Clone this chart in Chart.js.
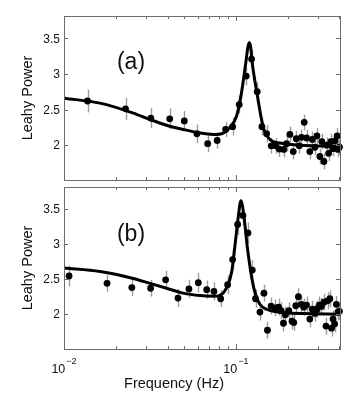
<!DOCTYPE html>
<html>
<head>
<meta charset="utf-8">
<script src="https://cdn.jsdelivr.net/npm/chart.js@4.4.1/dist/chart.umd.min.js"></script>
<style>
    body { margin: 0; background: #fff; }
    #wrap { position: relative; width: 354px; height: 416px; }
    canvas { position: absolute; left: 0; }
</style>
</head>
<body>
<div id="wrap">
    <canvas id="chartA" width="354" height="184" style="top:0px"></canvas>
    <canvas id="chartB" width="354" height="233" style="top:183px"></canvas>
</div>
<script>
// panel (a) - data points
const freqA = [0.0137, 0.0228, 0.0320, 0.0412, 0.0501, 0.0593, 0.0685, 0.0778, 0.0871, 0.0957,
    0.1045, 0.1148, 0.1233, 0.1330, 0.1416, 0.1508, 0.1604, 0.170, 0.1786, 0.1897,
    0.197, 0.206, 0.2155, 0.2242, 0.2335, 0.2405, 0.2495, 0.2575, 0.269, 0.278,
    0.288, 0.296, 0.3077, 0.316, 0.325, 0.337, 0.346, 0.357, 0.367, 0.377,
    0.388, 0.392, 0.40];
const powerA = [2.62, 2.51, 2.38, 2.37, 2.34, 2.16, 2.02, 2.065, 2.22, 2.26,
    2.57, 2.97, 3.21, 2.75, 2.26, 2.16, 1.99, 1.99, 1.945, 1.94,
    2.02, 2.15, 1.91, 2.09, 1.99, 2.11, 2.32, 2.10, 1.91, 2.08,
    1.97, 2.13, 1.84, 2.05, 1.77, 2.0, 1.885, 2.05, 1.95, 2.06,
    2.13, 1.94, 1.97];
const errA = [0.16, 0.155, 0.14, 0.145, 0.14, 0.13, 0.12, 0.115, 0.105, 0.125,
    0.125, 0.13, 0.13, 0.14, 0.12, 0.12, 0.11, 0.11, 0.11, 0.11,
    0.11, 0.11, 0.11, 0.11, 0.11, 0.11, 0.11, 0.11, 0.11, 0.11,
    0.11, 0.11, 0.11, 0.11, 0.11, 0.11, 0.11, 0.11, 0.11, 0.11,
    0.11, 0.11, 0.11];

// panel (a) - fitted model
const fitFreqA = [0.01, 0.0162, 0.0253, 0.0316, 0.0395, 0.0494, 0.0618, 0.0738, 0.0844, 0.0923,
    0.1009, 0.1073, 0.1143, 0.1174, 0.1196, 0.1218, 0.1242, 0.133, 0.1442, 0.1577,
    0.180, 0.2366, 0.403];
const fitPowerA = [2.66, 2.59, 2.45, 2.36, 2.28, 2.22, 2.17, 2.15, 2.17, 2.25,
    2.41, 2.71, 3.17, 3.38, 3.44, 3.38, 3.17, 2.71, 2.25, 2.08,
    2.03, 2.00, 1.985];

// panel (b) - data points
const freqB = [0.0107, 0.0178, 0.0248, 0.0319, 0.039, 0.046, 0.0533, 0.0604, 0.0676, 0.0745,
    0.0815, 0.0895, 0.0957, 0.1023, 0.1098, 0.1175, 0.1245, 0.130, 0.1379, 0.1455,
    0.1525, 0.160, 0.169, 0.177, 0.183, 0.189, 0.194, 0.203, 0.212, 0.217,
    0.223, 0.231, 0.2405, 0.248, 0.2575, 0.269, 0.278, 0.288, 0.296, 0.305,
    0.314, 0.325, 0.334, 0.341, 0.352, 0.360, 0.367, 0.375, 0.384, 0.392,
    0.40];
const powerB = [2.545, 2.44, 2.38, 2.37, 2.49, 2.23, 2.36, 2.45, 2.35, 2.325,
    2.22, 2.42, 2.78, 3.28, 3.41, 3.16, 2.63, 2.22, 2.03, 2.30,
    1.77, 2.115, 2.09, 2.10, 2.05, 1.87, 1.99, 2.05, 1.90, 1.88,
    2.12, 2.25, 2.14, 2.10, 2.13, 1.93, 2.07, 2.01, 2.07, 2.13,
    2.11, 2.17, 1.83, 2.19, 2.22, 1.80, 1.93, 1.86, 2.14, 2.03,
    2.04];
const errB = [0.15, 0.12, 0.12, 0.12, 0.13, 0.13, 0.13, 0.14, 0.13, 0.13,
    0.12, 0.13, 0.14, 0.15, 0.15, 0.15, 0.14, 0.13, 0.12, 0.12,
    0.12, 0.12, 0.12, 0.12, 0.12, 0.12, 0.12, 0.12, 0.12, 0.12,
    0.12, 0.12, 0.12, 0.12, 0.12, 0.12, 0.12, 0.12, 0.12, 0.12,
    0.12, 0.12, 0.12, 0.12, 0.12, 0.12, 0.12, 0.12, 0.12, 0.12,
    0.12];

// panel (b) - fitted model
const fitFreqB = [0.01, 0.0162, 0.0253, 0.0316, 0.0395, 0.0494, 0.0618, 0.0738, 0.0807, 0.0883,
    0.0944, 0.0982, 0.1033, 0.1069, 0.1113, 0.1166, 0.1240, 0.1300, 0.1379, 0.1508,
    0.1897, 0.403];
const fitPowerB = [2.66, 2.61, 2.51, 2.44, 2.37, 2.30, 2.265, 2.255, 2.27, 2.38,
    2.60, 2.93, 3.40, 3.62, 3.40, 2.95, 2.50, 2.28, 2.14, 2.07,
    2.02, 2.00];

// axes
const yTicks = [2, 2.5, 3, 3.5];
const yTickLabels = ['2', '2.5', '3', '3.5'];
const xMajorTicks = [0.01, 0.1];
const xTickBase = ['10', '10'];
const xTickExp = ['\u22122', '\u22121'];
const xMinorTicks = [0.02, 0.03, 0.04, 0.05, 0.06, 0.07, 0.08, 0.09, 0.2, 0.3, 0.4];

const FONT = '"Liberation Sans", Arial, Helvetica, sans-serif';
const TXT = '#111';
const AXIS = '#6a6a6a';

function toXY(xs, ys) {
    return xs.map((v, i) => ({ x: v, y: ys[i] }));
}

// error bars, frame, inward ticks and all the labels
const panelDeco = {
    id: 'panelDeco',
    beforeDatasetsDraw(chart) {
        const { ctx, chartArea: a, scales: { x, y } } = chart;
        const ds = chart.data.datasets[0];
        ctx.save();
        ctx.beginPath();
        ctx.rect(a.left, a.top, a.width, a.height);
        ctx.clip();
        ctx.strokeStyle = '#9c9c9c';
        ctx.lineWidth = 1.4;
        ds.data.forEach((p, i) => {
            const px = Math.round(x.getPixelForValue(p.x)) + 0.5;
            ctx.beginPath();
            ctx.moveTo(px, y.getPixelForValue(p.y - ds.errors[i]));
            ctx.lineTo(px, y.getPixelForValue(p.y + ds.errors[i]));
            ctx.stroke();
        });
        ctx.restore();
    },
    afterDraw(chart, args, opts) {
        const { ctx, chartArea: a, scales: { x, y } } = chart;
        ctx.save();
        ctx.strokeStyle = AXIS;
        ctx.lineWidth = 1;
        ctx.strokeRect(a.left + 0.5, a.top + 0.5, a.width, a.height);

        // y ticks, left and right
        ctx.beginPath();
        yTicks.forEach(v => {
            const py = Math.round(y.getPixelForValue(v)) + 0.5;
            ctx.moveTo(a.left, py); ctx.lineTo(a.left + 4, py);
            ctx.moveTo(a.right, py); ctx.lineTo(a.right - 4, py);
        });
        // x ticks, top and bottom
        xMajorTicks.forEach(v => {
            const px = Math.round(x.getPixelForValue(v)) + 0.5;
            ctx.moveTo(px, a.bottom); ctx.lineTo(px, a.bottom - 5);
            ctx.moveTo(px, a.top); ctx.lineTo(px, a.top + 5);
        });
        xMinorTicks.forEach(v => {
            const px = Math.round(x.getPixelForValue(v)) + 0.5;
            ctx.moveTo(px, a.bottom); ctx.lineTo(px, a.bottom - 3);
            ctx.moveTo(px, a.top); ctx.lineTo(px, a.top + 3);
        });
        ctx.stroke();

        // y tick labels
        ctx.fillStyle = TXT;
        ctx.font = '12px ' + FONT;
        ctx.textAlign = 'right';
        ctx.textBaseline = 'middle';
        yTicks.forEach((v, i) => {
            ctx.fillText(yTickLabels[i], a.left - 4, y.getPixelForValue(v) + 1);
        });

        // y title
        ctx.save();
        ctx.translate(32, (a.top + a.bottom) / 2);
        ctx.rotate(-Math.PI / 2);
        ctx.font = '14.5px ' + FONT;
        ctx.textAlign = 'center';
        ctx.textBaseline = 'alphabetic';
        ctx.fillText('Leahy Power', 0, 0);
        ctx.restore();

        // panel letter
        ctx.font = '23px ' + FONT;
        ctx.textAlign = 'center';
        ctx.textBaseline = 'middle';
        ctx.fillText(opts.letter, 131, a.top + opts.letterDy);

        // x tick labels and title only on the bottom panel
        if (opts.xLabels) {
            ctx.textAlign = 'left';
            ctx.textBaseline = 'alphabetic';
            xMajorTicks.forEach((v, i) => {
                const px = x.getPixelForValue(v);
                ctx.font = '12.5px ' + FONT;
                const w1 = ctx.measureText(xTickBase[i]).width;
                ctx.font = '9px ' + FONT;
                const w2 = ctx.measureText(xTickExp[i]).width;
                const x0 = px - (w1 + w2 + 1) / 2;
                ctx.font = '12.5px ' + FONT;
                ctx.fillText(xTickBase[i], x0, a.bottom + 23.5);
                ctx.font = '9px ' + FONT;
                ctx.fillText(xTickExp[i], x0 + w1 + 1, a.bottom + 14.5);
            });
            ctx.font = '14.5px ' + FONT;
            ctx.textAlign = 'center';
            ctx.fillText('Frequency (Hz)', 174, a.bottom + 38.5);
        }
        ctx.restore();
    }
};

function makePanel(canvasId, freq, power, err, fitFreq, fitPower, yMin, yMax, pad, deco) {
    const data = {
        datasets: [{
            label: 'data',
            data: toXY(freq, power),
            errors: err,
            pointRadius: 3.4,
            pointBackgroundColor: '#000',
            pointBorderWidth: 0,
            showLine: false,
            clip: false,
            order: 0
        }, {
            label: 'fit',
            data: toXY(fitFreq, fitPower),
            showLine: true,
            pointRadius: 0,
            borderColor: '#000',
            borderWidth: 3,
            cubicInterpolationMode: 'monotone',
            order: 1
        }]
    };

    const config = {
        type: 'scatter',
        data: data,
        options: {
            responsive: false,
            animation: false,
            events: [],
            layout: { padding: pad },
            scales: {
                x: { type: 'logarithmic', min: 0.01, max: 0.403, display: false },
                y: { type: 'linear', min: yMin, max: yMax, display: false }
            },
            plugins: {
                legend: { display: false },
                tooltip: { enabled: false },
                panelDeco: deco
            }
        },
        plugins: [panelDeco]
    };

    return new Chart(document.getElementById(canvasId), config);
}

const graficoA = makePanel('chartA', freqA, powerA, errA, fitFreqA, fitPowerA, 1.51, 3.815,
    { left: 64, right: 14, top: 16, bottom: 1 },
    { letter: '(a)', letterDy: 46.5, xLabels: false });

const graficoB = makePanel('chartB', freqB, powerB, errB, fitFreqB, fitPowerB, 1.502, 3.816,
    { left: 64, right: 14, top: 0, bottom: 67 },
    { letter: '(b)', letterDy: 47.5, xLabels: true });
</script>
</body>
</html>
